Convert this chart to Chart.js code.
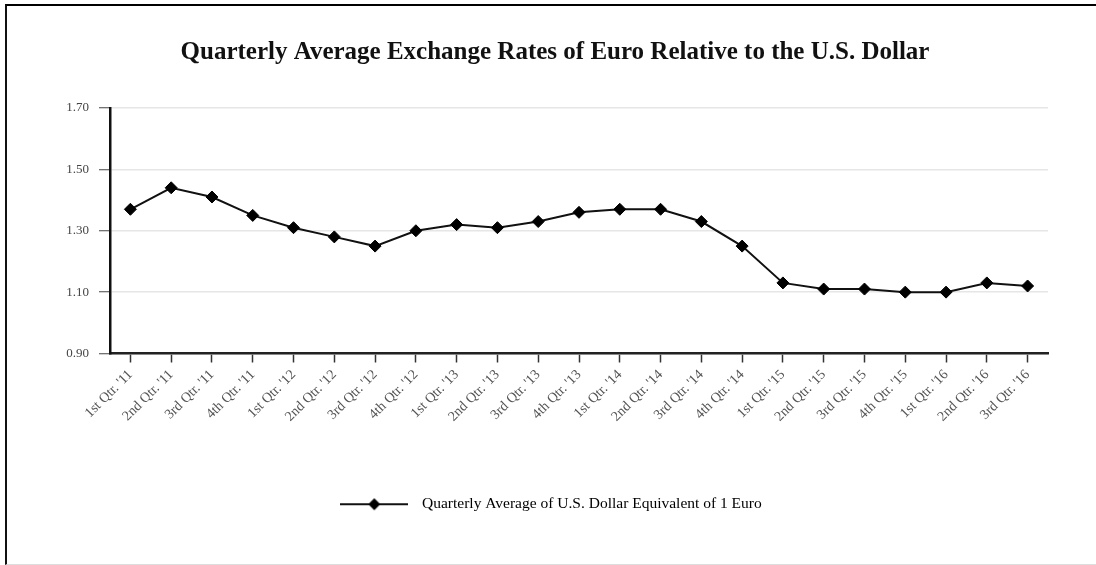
<!DOCTYPE html>
<html>
<head>
<meta charset="utf-8">
<script src="https://cdn.jsdelivr.net/npm/chart.js@4/dist/chart.umd.min.js"></script>
<style>
  html, body { margin: 0; padding: 0; background: #fff; }
  #frame { position: absolute; left: 5px; top: 4px; width: 1100px; height: 558px;
           border-top: 2px solid #000; border-left: 2px solid #111; border-bottom: 1px solid #ddd; }
  #wrap { position: absolute; left: 0; top: 0; width: 1096px; height: 565px; }
</style>
</head>
<body>
<div id="frame"></div>
<div id="wrap"><canvas id="c" width="1096" height="565"></canvas></div>
<script>
const categories = ["1st Qtr. '11","2nd Qtr. '11","3rd Qtr. '11","4th Qtr. '11",
  "1st Qtr. '12","2nd Qtr. '12","3rd Qtr. '12","4th Qtr. '12",
  "1st Qtr. '13","2nd Qtr. '13","3rd Qtr. '13","4th Qtr. '13",
  "1st Qtr. '14","2nd Qtr. '14","3rd Qtr. '14","4th Qtr. '14",
  "1st Qtr. '15","2nd Qtr. '15","3rd Qtr. '15","4th Qtr. '15",
  "1st Qtr. '16","2nd Qtr. '16","3rd Qtr. '16"];
const usdPerEuro = [1.37,1.44,1.41,1.35,1.31,1.28,1.25,1.30,1.32,1.31,1.33,1.36,
  1.37,1.37,1.33,1.25,1.13,1.11,1.11,1.10,1.10,1.13,1.12];
const seriesName = "Quarterly Average of U.S. Dollar Equivalent of 1 Euro";
const chartTitle = "Quarterly Average Exchange Rates of Euro Relative to the U.S. Dollar";
const yTicks = [0.90, 1.10, 1.30, 1.50, 1.70];

const SERIF = "'Liberation Serif', 'Times New Roman', serif";

// legend sample: line with diamond marker
const sample = document.createElement('canvas');
sample.width = 68; sample.height = 14;
(function(){
  const g = sample.getContext('2d');
  g.strokeStyle = '#111'; g.lineWidth = 2;
  g.beginPath(); g.moveTo(0, 7); g.lineTo(68, 7); g.stroke();
  g.fillStyle = '#000';
  g.beginPath(); g.moveTo(34, 1); g.lineTo(40, 7); g.lineTo(34, 13); g.lineTo(28, 7); g.closePath(); g.fill();
})();

// nudge the title a little to the right, as in the reference
const titleShift = {
  id: 'titleShift',
  afterLayout(chart) {
    if (chart.titleBlock) { chart.titleBlock.left += 7; chart.titleBlock.right += 7; }
  }
};

new Chart(document.getElementById('c'), {
  type: 'line',
  data: {
    labels: categories,
    datasets: [{
      label: seriesName,
      data: usdPerEuro,
      borderColor: '#111',
      borderWidth: 2,
      backgroundColor: '#000',
      pointStyle: 'rectRot',
      pointRadius: 6,
      pointBorderWidth: 1,
      pointBackgroundColor: '#000',
      pointBorderColor: '#000',
      tension: 0
    }]
  },
  plugins: [titleShift],
  options: {
    responsive: false,
    animation: false,
    devicePixelRatio: 1,
    layout: { padding: { left: 0, right: 0, top: 0, bottom: 43 } },
    plugins: {
      title: {
        display: true,
        text: chartTitle,
        color: '#111',
        font: { family: SERIF, size: 25, weight: 'bold' },
        padding: { top: 38, bottom: 40 }
      },
      legend: {
        position: 'bottom',
        labels: {
          usePointStyle: true,
          pointStyle: sample,
          pointStyleWidth: 80,
          color: '#444',
          font: { family: SERIF, size: 15.5 },
          padding: 10,
          generateLabels: (chart) => [{
            text: seriesName, pointStyle: sample, fillStyle: '#000',
            strokeStyle: '#000', lineWidth: 0, hidden: false, datasetIndex: 0
          }]
        }
      },
      tooltip: { enabled: false }
    },
    scales: {
      x: {
        offset: true,
        grid: { display: true, drawOnChartArea: false, drawTicks: true, offset: false,
                tickLength: 9, tickColor: '#333', tickWidth: 1.5 },
        border: { display: true, color: '#222', width: 2.5 },
        ticks: { color: '#555', font: { family: SERIF, size: 14 }, minRotation: 45, maxRotation: 45,
                 autoSkip: false, padding: 4 },
        afterFit: (s) => { s.height = 133; }
      },
      y: {
        min: 0.9, max: 1.7,
        afterBuildTicks: (s) => { s.ticks = yTicks.map(v => ({ value: v })); },
        grid: { color: '#e6e6e6', lineWidth: 1.5, drawTicks: true, tickLength: 11,
                tickColor: '#444', tickWidth: 1 },
        border: { display: true, color: '#111', width: 2.5 },
        ticks: { color: '#444', font: { family: SERIF, size: 13 }, padding: 10,
                 callback: (v) => Number(v).toFixed(2) },
        afterFit: (s) => { s.width = 110; }
      },
      yRight: {
        position: 'right',
        display: true,
        min: 0, max: 1,
        grid: { display: false, drawTicks: false },
        border: { display: false },
        ticks: { display: false },
        afterFit: (s) => { s.width = 48; }
      }
    }
  }
});
</script>
</body>
</html>
